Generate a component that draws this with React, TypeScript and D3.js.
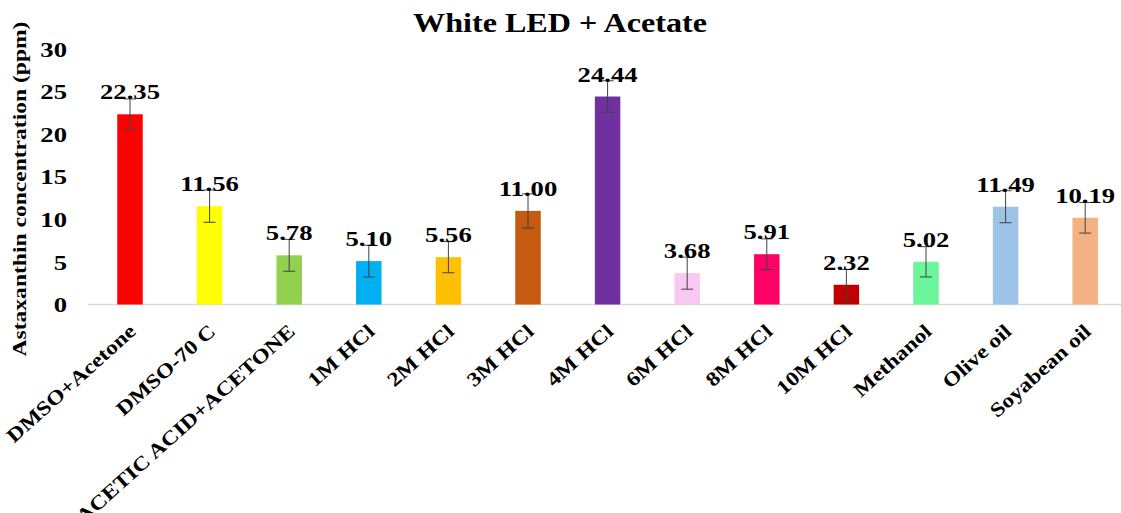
import React from "react";
import * as d3 from "d3";

const categories = [
  "DMSO+Acetone",
  "DMSO-70 C",
  "ACETIC ACID+ACETONE",
  "1M HCl",
  "2M HCl",
  "3M HCl",
  "4M HCl",
  "6M HCl",
  "8M HCl",
  "10M HCl",
  "Methanol",
  "Olive oil",
  "Soyabean oil",
];
const values = [22.35, 11.56, 5.78, 5.1, 5.56, 11.0, 24.44, 3.68, 5.91, 2.32, 5.02, 11.49, 10.19];
const errors = [1.8, 1.9, 1.87, 1.86, 1.83, 2.0, 1.85, 1.88, 1.8, 1.8, 1.78, 1.88, 1.8];
const colors = [
  "#FF0000",
  "#FFFF00",
  "#92D050",
  "#00B0F0",
  "#FFC000",
  "#C55A11",
  "#7030A0",
  "#F7C8F2",
  "#FF0066",
  "#C00000",
  "#6CF59A",
  "#9DC3E6",
  "#F4B183",
];
const yTicks = [0, 5, 10, 15, 20, 25, 30];
const title = "White LED + Acetate";
const yTitle = "Astaxanthin concentration (ppm)";

const W = 1121;
const H = 513;
const FONT = "'Liberation Serif', 'Times New Roman', serif";

export default function App() {
  const x = d3
    .scaleBand<string>()
    .domain(categories)
    .range([90.2, 1125])
    .paddingInner(0.68)
    .paddingOuter(0.34);
  const y = d3.scaleLinear().domain([0, 30]).range([304.5, 49.2]);
  const bw = x.bandwidth();

  return (
    <svg
      width={W}
      height={H}
      style={{ position: "absolute", left: 0, top: 0, background: "#fff" }}
      fontFamily={FONT}
      fontWeight="bold"
    >
      <rect x={0} y={0} width={W} height={H} fill="#fff" />
      {/* title */}
      <text
        transform={`translate(560,32) scale(1.19,1)`}
        textAnchor="middle"
        fontSize={27}
        fill="#000"
      >
        {title}
      </text>
      {/* y title */}
      <text
        transform={`translate(26,189) rotate(-90) scale(1.24,1)`}
        textAnchor="middle"
        fontSize={19}
        fill="#000"
      >
        {yTitle}
      </text>
      {/* y tick labels */}
      {yTicks.map((t) => (
        <text
          key={t}
          transform={`translate(67,${y(t)}) scale(1.27,1)`}
          textAnchor="end"
          dy="0.36em"
          fontSize={21}
          fill="#000"
        >
          {t}
        </text>
      ))}
      {/* baseline */}
      <line x1={88} x2={W} y1={y(0)} y2={y(0)} stroke="#D9D9D9" strokeWidth={1.5} />
      {/* bars */}
      {categories.map((c, i) => (
        <rect
          key={c}
          x={x(c)}
          y={y(values[i])}
          width={bw}
          height={y(0) - y(values[i])}
          fill={colors[i]}
        />
      ))}
      {/* error bars */}
      {categories.map((c, i) => {
        const cx = (x(c) as number) + bw / 2;
        const top = y(values[i] + errors[i]);
        const bot = y(Math.max(0, values[i] - errors[i]));
        return (
          <g key={c} stroke="#404040" strokeWidth={1}>
            <line x1={cx} x2={cx} y1={top} y2={bot} />
            <line x1={cx - 6} x2={cx + 6} y1={top} y2={top} />
            <line x1={cx - 6} x2={cx + 6} y1={bot} y2={bot} />
          </g>
        );
      })}
      {/* value labels */}
      {categories.map((c, i) => {
        const cx = (x(c) as number) + bw / 2;
        return (
          <text
            key={c}
            transform={`translate(${cx},${y(values[i]) - 15}) scale(1.27,1)`}
            textAnchor="middle"
            fontSize={21}
            fill="#000"
          >
            {values[i].toFixed(2)}
          </text>
        );
      })}
      {/* x labels */}
      {categories.map((c) => {
        const cx = (x(c) as number) + bw / 2;
        return (
          <text
            key={c}
            transform={`translate(${cx + 7},333) rotate(-42) scale(1.18,1)`}
            textAnchor="end"
            fontSize={20}
            fill="#000"
          >
            {c}
          </text>
        );
      })}
    </svg>
  );
}
